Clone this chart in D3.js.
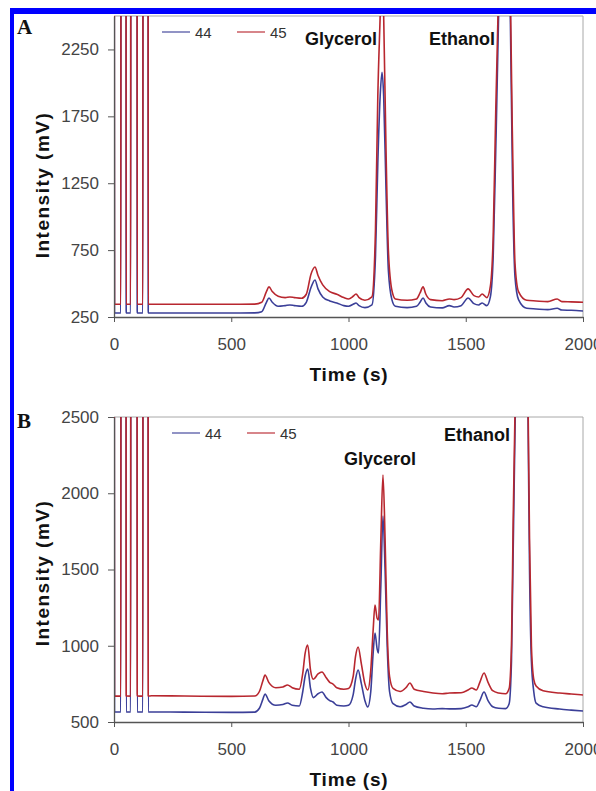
<!DOCTYPE html>
<html>
<head>
<meta charset="utf-8">
<script src="https://cdn.jsdelivr.net/npm/d3@7"></script>
<style>
  body { margin: 0; background: #fff; }
  text { font-family: "Liberation Sans", Arial, sans-serif; }
</style>
</head>
<body>
<div id="chart"></div>
<script>
// chart data (m/z 44 and m/z 45)
var seriesNames = ["44", "45"];
var xTicks = [0, 500, 1000, 1500, 2000];
var yTicksA = [250, 750, 1250, 1750, 2250];
var yTicksB = [500, 1000, 1500, 2000, 2500];

// panel A
var timeA = [0, 2, 29, 30, 51, 52, 71, 72, 98, 99, 123, 124, 145, 146,
  300, 500, 600, 630, 650, 661, 675, 700, 730, 750, 770, 800, 820, 840, 857, 870, 890, 920, 950, 980,
  1000, 1020, 1032, 1045, 1070, 1100, 1115, 1125, 1135, 1143, 1150, 1160, 1170, 1185, 1200, 1250,
  1290, 1305, 1318, 1330, 1350, 1400, 1430, 1450, 1480, 1510, 1535, 1555, 1570, 1590, 1605, 1617,
  1628, 1640, 1660, 1680, 1690, 1700, 1710, 1725, 1760, 1800, 1850, 1890, 1910, 1950, 2000];
var mz44A = [6000, 280, 280, 6000, 6000, 280, 280, 6000, 6000, 280, 280, 6000, 6000, 280,
  280, 280, 281, 290, 360, 392, 360, 330, 335, 340, 335, 330, 360, 470, 527, 460, 400, 370, 355, 335,
  330, 345, 355, 335, 320, 340, 700, 1400, 1900, 2080, 1900, 1200, 600, 380, 330, 320,
  330, 360, 392, 355, 325, 318, 335, 325, 335, 392, 350, 340, 355, 335, 400, 700,
  1500, 2500, 5000, 5000, 2500, 1200, 550, 380, 315, 310, 305, 315, 302, 300, 295];
var mz45A = [6000, 345, 345, 6000, 6000, 345, 345, 6000, 6000, 345, 345, 6000, 6000, 345,
  345, 345, 346, 360, 440, 475, 440, 405, 395, 400, 395, 390, 420, 570, 624, 560, 490, 440, 420, 395,
  385, 405, 422, 395, 375, 400, 900, 1900, 2500, 3000, 2500, 1500, 750, 450, 385, 375,
  385, 430, 475, 420, 380, 372, 385, 380, 395, 460, 410, 400, 422, 395, 480, 850,
  1800, 2700, 5000, 5000, 2700, 1500, 650, 440, 375, 370, 365, 385, 365, 363, 360];

// panel B
var timeB = [0, 2, 29, 30, 51, 52, 71, 72, 98, 99, 123, 124, 145, 146,
  160, 300, 500, 600, 620, 635, 644, 660, 690, 720, 740, 760, 790, 805, 815, 826, 838, 850, 870, 887,
  905, 920, 934, 950, 980, 1000, 1020, 1030, 1041, 1055, 1070, 1082, 1095, 1105, 1113, 1122, 1128,
  1138, 1147, 1156, 1165, 1175, 1190, 1220, 1245, 1262, 1280, 1320, 1360, 1400, 1430, 1480, 1510,
  1526, 1545, 1560, 1578, 1595, 1615, 1640, 1670, 1685, 1695, 1702, 1712, 1740, 1765, 1772, 1780,
  1790, 1800, 1830, 1900, 1950, 2000];
var mz44B = [6000, 566, 566, 6000, 6000, 566, 566, 6000, 6000, 566, 566, 6000, 6000, 566,
  566, 565, 563, 565, 590, 650, 684, 640, 610, 615, 625, 610, 605, 700, 800, 848, 720, 660, 685, 697,
  660, 640, 631, 610, 605, 610, 680, 780, 841, 750, 640, 598, 700, 950, 1084, 980, 952,
  1400, 1850, 1500, 1000, 700, 620, 600, 615, 631, 605, 590, 585, 588, 586, 588, 600,
  611, 600, 640, 697, 640, 600, 590, 588, 620, 900, 1600, 2600, 5000, 2600, 1500, 900,
  700, 624, 600, 585, 578, 572];
var mz45B = [6000, 670, 670, 6000, 6000, 670, 670, 6000, 6000, 670, 670, 6000, 6000, 670,
  672, 670, 668, 670, 700, 770, 808, 760, 725, 730, 743, 725, 715, 820, 950, 1005, 840, 780, 815, 828,
  790, 760, 749, 725, 715, 720, 800, 930, 992, 880, 750, 710, 840, 1100, 1267, 1180, 1169,
  1700, 2120, 1700, 1100, 800, 720, 700, 725, 756, 715, 700, 690, 685, 690, 692, 710,
  723, 710, 760, 821, 760, 705, 690, 685, 720, 1000, 1800, 2700, 5000, 2700, 1700, 1000,
  780, 736, 705, 690, 684, 677];

var colors = ["#3b3f98", "#b8272f"];

var svgWidth = 596;
var svgHeight = 791;

var svg = d3.select("#chart")
    .append("svg")
    .attr("width", svgWidth)
    .attr("height", svgHeight);

svg.append("rect")
    .attr("width", svgWidth)
    .attr("height", svgHeight)
    .attr("fill", "#fff");

// blue page border (top and left)
svg.append("rect").attr("x", 10).attr("y", 8).attr("width", 586).attr("height", 6).attr("fill", "#0000ff");
svg.append("rect").attr("x", 10).attr("y", 8).attr("width", 4).attr("height", 783).attr("fill", "#0000ff");

function drawPanel(p) {
    var left = 114, right = 583;

    var xScale = d3.scaleLinear()
        .domain([0, 2000])
        .range([left, right]);

    var yScale = d3.scaleLinear()
        .domain(p.yDomain)
        .range([p.bottom, p.top]);

    svg.append("clipPath")
        .attr("id", p.id)
        .append("rect")
        .attr("x", left)
        .attr("y", p.top)
        .attr("width", right - left)
        .attr("height", p.bottom - p.top);

    // plot frame (top and right)
    svg.append("path")
        .attr("d", `M${left},${p.top}H${right}V${p.bottom}`)
        .attr("fill", "none")
        .attr("stroke", "#a8a8a8")
        .attr("stroke-width", 1);

    // series lines, m/z 44 first then m/z 45 on top
    [p.blue, p.red].forEach(function(vals, i) {
        var line = d3.line()
            .x((d, j) => xScale(p.time[j]))
            .y(d => yScale(d))
            .curve(d3.curveMonotoneX);

        svg.append("path")
            .datum(vals)
            .attr("clip-path", `url(#${p.id})`)
            .attr("d", line)
            .attr("fill", "none")
            .attr("stroke", colors[i])
            .attr("stroke-width", 1.6)
            .attr("stroke-linejoin", "round");
    });

    // axes (plain numbers, no thousands separator)
    var bottomAxis = d3.axisBottom(xScale)
        .tickValues(xTicks)
        .tickFormat(d3.format("d"))
        .tickSizeInner(5)
        .tickSizeOuter(0)
        .tickPadding(16);

    var leftAxis = d3.axisLeft(yScale)
        .tickValues(p.yTicks)
        .tickFormat(d3.format("d"))
        .tickSizeInner(6)
        .tickSizeOuter(0)
        .tickPadding(9);

    var gx = svg.append("g")
        .attr("transform", `translate(0, ${p.bottom})`)
        .call(bottomAxis);

    var gy = svg.append("g")
        .attr("transform", `translate(${left}, 0)`)
        .call(leftAxis);

    [gx, gy].forEach(function(g) {
        g.select(".domain").attr("stroke", "#555").attr("stroke-width", 1.3);
        g.selectAll(".tick line").attr("stroke", "#555");
        g.selectAll(".tick text")
            .attr("font-size", "17px")
            .attr("fill", "#444")
            .style("font-family", "'Liberation Sans', Arial, sans-serif");
    });

    // axis titles
    svg.append("text")
        .attr("x", 349)
        .attr("y", p.xTitleY)
        .attr("text-anchor", "middle")
        .attr("font-size", "19px")
        .attr("font-weight", "bold")
        .attr("letter-spacing", "0.8px")
        .attr("fill", "#111")
        .text("Time (s)");

    svg.append("text")
        .attr("transform", `translate(49, ${p.yTitleY}) rotate(-90)`)
        .attr("text-anchor", "middle")
        .attr("font-size", "19px")
        .attr("font-weight", "bold")
        .attr("letter-spacing", "1.5px")
        .attr("fill", "#111")
        .text("Intensity (mV)");

    // panel letter
    svg.append("text")
        .attr("x", 17)
        .attr("y", p.letterY)
        .attr("font-size", "21px")
        .attr("font-weight", "bold")
        .style("font-family", "'Liberation Serif', 'Times New Roman', serif")
        .attr("fill", "#111")
        .text(p.letter);

    // legend
    seriesNames.forEach(function(name, i) {
        var lx = p.legendX + i * 75;
        svg.append("line")
            .attr("x1", lx).attr("x2", lx + 28)
            .attr("y1", p.legendY).attr("y2", p.legendY)
            .attr("stroke", colors[i])
            .attr("stroke-opacity", 0.75)
            .attr("stroke-width", 1.5);
        svg.append("text")
            .attr("x", lx + 33)
            .attr("y", p.legendY + 6)
            .attr("font-size", "15px")
            .attr("fill", "#333")
            .text(name);
    });

    // peak labels
    p.peaks.forEach(function(pk) {
        svg.append("text")
            .attr("x", pk.x)
            .attr("y", pk.y)
            .attr("font-size", "18px")
            .attr("font-weight", "bold")
            .attr("fill", "#111")
            .text(pk.name);
    });
}

drawPanel({
    id: "clipA", top: 16, bottom: 317, yDomain: [250, 2500], yTicks: yTicksA,
    time: timeA, blue: mz44A, red: mz45A,
    xTitleY: 381, yTitleY: 185, letter: "A", letterY: 34,
    legendX: 162, legendY: 32,
    peaks: [{name: "Glycerol", x: 305, y: 45}, {name: "Ethanol", x: 429, y: 45}]
});

drawPanel({
    id: "clipB", top: 417, bottom: 722, yDomain: [500, 2500], yTicks: yTicksB,
    time: timeB, blue: mz44B, red: mz45B,
    xTitleY: 786, yTitleY: 573, letter: "B", letterY: 428,
    legendX: 172, legendY: 433,
    peaks: [{name: "Glycerol", x: 344, y: 465}, {name: "Ethanol", x: 444, y: 441}]
});
</script>
</body>
</html>
